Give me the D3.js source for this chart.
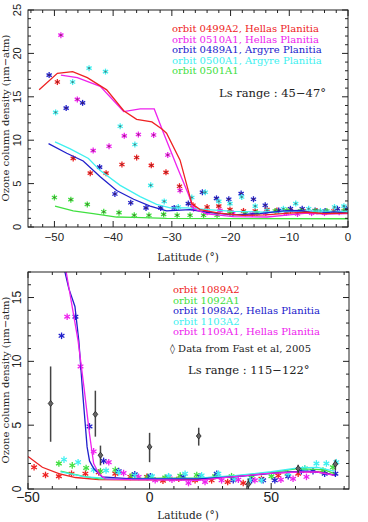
<!DOCTYPE html>
<html><head><meta charset="utf-8">
<script src="https://cdn.jsdelivr.net/npm/d3@7"></script>
<style>body{margin:0;background:#fff}svg{display:block}</style>
</head><body>
<svg id="c" width="368" height="522"></svg>
<script>
// ---------- DATA: top panel (Ls 45-47) ----------
const topLegend = ["orbit 0499A2, Hellas Planitia","orbit 0510A1, Hellas Planitia","orbit 0489A1, Argyre Planitia","orbit 0500A1, Argyre Planitia","orbit 0501A1"];
const topColors = ["#ee2222","#ee22ee","#2020cc","#40f0f0","#40e040"];
const topXTicks = [-50,-40,-30,-20,-10,0];
const topYTicks = [0,5,10,15,20,25];
const topLineRed = [[-52.6,15.8],[-49.5,17.7],[-46.9,17.9],[-44.4,17.2],[-41.1,15.8],[-38.2,13.4],[-36.0,12.4],[-33.4,12.1],[-31.7,11.3],[-30.9,10.8],[-28.6,7.7],[-26.6,2.7],[-25.2,2.0],[-22,1.6],[-18,1.35],[-14,1.4],[-10,1.6],[-7,1.7],[-4,1.55],[0,1.6]];
const topLineMag = [[-48.9,17.5],[-46.1,17.2],[-42.2,16.2],[-38.2,13.3],[-35.4,13.6],[-33.0,13.6],[-31.4,10.8],[-29.1,6.9],[-27.2,3.8],[-26.3,2.1],[-24.0,1.5],[-19.5,1.2],[-13.8,1.15],[-10,1.4],[-7,1.6],[-4,1.5],[0,1.55]];
const topLineBlue = [[-51.0,9.6],[-47.9,8.5],[-45.1,7.6],[-42.2,5.8],[-39.4,4.2],[-36.5,3.2],[-33.7,2.4],[-30.9,1.85],[-26.9,2.0],[-24.0,1.7],[-19.5,1.4],[-15.0,1.55],[-11.0,1.85],[-8.1,1.9],[-5.3,1.55],[-2.4,1.75],[0,1.6]];
const topLineCyan = [[-49.9,9.8],[-47.3,9.0],[-44.2,7.9],[-42.2,6.5],[-38.8,4.8],[-35.4,3.5],[-32.6,2.6],[-30.3,2.2],[-27.4,2.2],[-24.0,2.0],[-19.5,1.8],[-13.8,1.7],[-8.1,1.85],[0,1.8]];
const topLineGreen = [[-49.9,2.4],[-46.8,1.85],[-43.4,1.55],[-39.4,1.15],[-36.5,1.1],[-30.9,1.0],[0,0.95]];
const topStarRed = [[-49.5,16.7],[-46.8,7.9],[-43.9,6.2],[-41.2,6.2],[-38.5,7.2],[-36.0,8.0],[-33.5,7.1],[-31.0,6.3],[-28.7,4.7],[-26.4,2.5],[-24.0,2.3],[-22.0,2.4],[-20.1,2.0],[-17.8,1.85],[-15.8,1.85],[-13.8,2.0],[-12.1,1.9],[-9.8,1.9],[-7.6,1.85],[-5.3,1.85],[-2.4,1.85],[-0.5,1.9]];
const topStarMag = [[-48.9,22.1],[-46.1,14.7],[-43.4,8.8],[-40.7,9.3],[-38.1,10.5],[-35.7,10.65],[-33.1,10.6],[-30.7,8.3],[-28.6,4.2],[-26.3,2.1],[-24.0,1.7],[-21.8,1.9],[-19.6,1.6],[-16.3,1.5],[-14.0,1.6],[-10.5,1.6],[-8.6,1.5],[-6.2,1.6],[-4.0,1.6],[-1.5,1.7]];
const topStarBlue = [[-50.9,17.5],[-48.0,13.7],[-45.2,14.3],[-42.3,6.9],[-39.7,3.8],[-37.0,2.8],[-34.4,2.2],[-31.9,2.2],[-29.6,2.2],[-27.2,2.7],[-24.8,4.0],[-22.4,3.3],[-20.3,3.2],[-18.2,3.85],[-16.1,3.2],[-14.1,2.5],[-11.8,1.9],[-9.8,2.1],[-7.8,2.1],[-5.6,1.9],[-3.9,1.85],[-1.8,2.1],[-0.3,2.1]];
const topStarCyan = [[-49.8,13.2],[-46.9,16.7],[-44.1,18.3],[-41.3,17.9],[-38.8,11.6],[-36.3,9.5],[-33.6,4.8],[-31.3,2.95],[-28.9,2.3],[-26.6,3.4],[-24.3,4.0],[-22.0,2.95],[-20.1,2.7],[-18.1,3.45],[-15.8,2.4],[-13.8,1.9],[-11.0,2.1],[-8.9,2.7],[-6.7,2.1],[-4.7,1.85],[-2.3,2.3],[-0.7,2.4]];
const topStarGreen = [[-50.0,3.4],[-47.2,3.15],[-44.4,2.6],[-41.6,1.75],[-39.0,1.65],[-36.4,1.35],[-33.9,1.35],[-31.4,1.45],[-29.1,1.35],[-26.9,1.35],[-24.6,1.35],[-22.3,1.35],[-20.1,1.55],[-17.5,1.55],[-15.5,1.6],[-12.4,1.85],[-10.4,1.9],[-8.1,1.85],[-5.6,1.85],[-3.6,1.85],[-0.7,1.85]];

// ---------- DATA: bottom panel (Ls 115-122) ----------
const botLegend = ["orbit 1089A2","orbit 1092A1","orbit 1098A2, Hellas Planitia","orbit 1103A2","orbit 1109A1, Hellas Planitia"];
const botColors = ["#ee2222","#40e040","#2020cc","#40f0f0","#ee22ee"];
const botXTicks = [-50,0,50];
const botYTicks = [0,5,10,15];
const botLineRed = [[-50,2.55],[-44.1,1.7],[-37.3,1.2],[-30.5,0.9],[-20.9,0.73],[-10,0.72],[5,0.72],[20,0.75],[33.7,0.95],[47,1.2],[61,1.35],[69,1.35],[76,1.1]];
const botLineGreen = [[-36.6,1.4],[-27.7,1.0],[-20.9,0.8],[-10,0.82],[5,0.85],[20,0.85],[35,1.0],[50,1.3],[61,1.6],[72,1.5],[76,1.2]];
const botLineCyan = [[-36.6,1.35],[-26.4,0.95],[-14,0.8],[5,0.82],[20,0.85],[35,1.05],[50,1.35],[61,1.65],[69,1.7],[76,1.4]];
const botLineBlue = [[-39.3,20],[-34.8,17],[-33.2,15.7],[-30.7,14.3],[-29.1,11.6],[-27.5,7.5],[-25.7,3.3],[-24.7,2.2],[-23.0,1.6],[-19.5,0.95],[-7.2,0.8],[6.4,0.8],[20,0.8],[33.7,0.95],[40.6,1.05],[54.2,1.3],[65.2,1.4],[72,1.25],[76.8,1.05]];
const botLineMag = [[-38.8,20],[-34.3,17],[-33.2,15.8],[-29.4,11.6],[-27,8.0],[-24.7,4.3],[-23,2.0],[-20.9,1.2],[-18.2,0.8],[-7.2,0.73],[20,0.68],[33.7,0.95],[47.4,1.2],[61,1.33],[69,1.33],[76,1.07]];
const botStarRed = [[-47.5,1.7],[-42.8,1.1],[-37.3,1.0],[-32.1,1.2],[-26.4,1.2],[-20.9,1.3],[-14.1,1.2],[-7.9,0.95],[-1.1,0.95],[5.5,0.65],[12,0.8],[18.7,0.68],[25.5,0.68],[32.1,0.55],[38.5,0.47],[46,0.8],[52.9,1.05],[61.1,1.2]];
const botStarGreen = [[-37.3,2.0],[-31.8,1.85],[-26.1,1.65],[-20.2,1.4],[-14.1,1.5],[-7.2,1.05],[-0.7,0.95],[6.4,0.9],[12.6,1.05],[19.4,1.1],[26.9,1.0],[33.7,1.0],[41.9,0.9],[50.1,1.0],[56.7,1.2],[63.8,1.6],[71.3,1.45],[75.4,1.7]];
const botStarBlue = [[-36.2,12.0],[-30.5,13.5],[-24.7,4.9],[-18.9,2.2],[-12.7,1.4],[-6.1,1.15],[0.3,1.0],[7.8,0.95],[13.9,0.95],[20.8,0.95],[27.6,1.2],[34.4,0.68],[41.9,0.68],[46.7,0.68],[51.5,0.68],[57,1.0],[62.4,1.4],[67.2,1.4],[72,1.2],[76.4,1.2]];
const botStarCyan = [[-35.2,2.3],[-29.4,2.1],[-23,1.5],[-17.9,1.45],[-12.7,1.3],[-5.9,1.07],[1,1.0],[7.8,1.0],[14.6,1.2],[21.4,1.07],[28.3,1.2],[35.1,0.8],[41.3,0.68],[46,0.68],[57,1.2],[63.8,1.6],[68.6,2.0],[72.7,2.0],[76.8,2.1]];
const botStarMag = [[-33.9,13.5],[-28.4,9.6],[-23,2.95],[-16.8,2.1],[-10.7,1.25],[-4.5,0.95],[2.3,0.68],[9.2,0.73],[16,0.47],[22.8,0.55],[29.6,0.68],[36.5,0.73],[43.3,0.68],[54,0.73],[59,0.8],[64.5,0.95]];
// Fast et al. 2005: [lat, value, low, high]
const fastData = [[-40.7,6.7,3.7,9.6],[-22.3,5.85,4.1,7.7],[-20.2,2.65,1.85,3.4],[0,3.3,2.1,4.4],[20.2,4.15,3.4,4.8],[40.6,0.37,0,0.8],[61.1,1.6,1.25,1.9],[76.4,1.95,1.45,2.3]];

const svg = d3.select("#c");
const serif = "'DejaVu Serif','Liberation Serif',serif";
const sans = "'Liberation Sans',Arial,sans-serif";

function star(g, pts, x, y, color, r, dot) {
  const s = g.append("g");
  pts.forEach(p => {
    const cx = x(p[0]), cy = y(p[1]);
    for (let k = 0; k < 3; k++) {
      const a = Math.PI/2 + k*Math.PI/3;
      s.append("line").attr("x1", cx + r*Math.cos(a)).attr("y1", cy + r*Math.sin(a))
        .attr("x2", cx - r*Math.cos(a)).attr("y2", cy - r*Math.sin(a))
        .attr("stroke", color).attr("stroke-width", 1.3);
    }
    if (dot) s.append("circle").attr("cx", cx).attr("cy", cy).attr("r", 1.1).attr("fill", "#552222").attr("opacity", 0.55);
  });
}
function line(g, pts, x, y, color) {
  g.append("path").datum(pts).attr("fill","none").attr("stroke",color).attr("stroke-width",1.3)
    .attr("d", d3.line().x(d=>x(d[0])).y(d=>y(d[1])));
}
function frame(g, x, y, xMinorStep, yMinorStep, xTicks, yTicks, xFont, yFont, xLabY) {
  const [x0,x1] = x.range(), [y0,y1] = y.range();
  g.append("rect").attr("x",x0).attr("y",y1).attr("width",x1-x0).attr("height",y0-y1)
    .attr("fill","none").attr("stroke","#222").attr("stroke-width",1);
  const xd = x.domain(), yd = y.domain();
  const xm = d3.range(Math.ceil(xd[0]/xMinorStep)*xMinorStep, xd[1]+1e-9, xMinorStep);
  const ym = d3.range(Math.ceil(yd[0]/yMinorStep)*yMinorStep, yd[1]+1e-9, yMinorStep);
  const isMaj = (v, arr) => arr.some(t => Math.abs(t - v) < 1e-6);
  xm.forEach(v => {
    const L = isMaj(v, xTicks) ? 6 : 3, px = x(v);
    g.append("line").attr("x1",px).attr("x2",px).attr("y1",y0).attr("y2",y0-L).attr("stroke","#222");
    g.append("line").attr("x1",px).attr("x2",px).attr("y1",y1).attr("y2",y1+L).attr("stroke","#222");
  });
  ym.forEach(v => {
    const L = isMaj(v, yTicks) ? 6 : 3, py = y(v);
    g.append("line").attr("y1",py).attr("y2",py).attr("x1",x0).attr("x2",x0+L).attr("stroke","#222");
    g.append("line").attr("y1",py).attr("y2",py).attr("x1",x1).attr("x2",x1-L).attr("stroke","#222");
  });
  xTicks.forEach(v => g.append("text").attr("x", x(v)).attr("y", xLabY).attr("text-anchor","middle")
    .attr("font-family",sans).attr("font-size",xFont).attr("fill","#222").text(v < 0 ? "\u2212" + (-v) : String(v)));
  yTicks.forEach(v => g.append("text").attr("transform",`translate(${x0-7},${y(v)}) rotate(-90)`)
    .attr("text-anchor","middle").attr("font-family",sans).attr("font-size",yFont).attr("fill","#222").text(String(v)));
}

// ---------- top panel ----------
const xT = d3.scaleLinear().domain([-54.5, 0]).range([28, 348]);
const yT = d3.scaleLinear().domain([0, 25]).range([227, 10]);
const gT = svg.append("g");
svg.append("clipPath").attr("id","clipT").append("rect").attr("x",28).attr("y",10).attr("width",320).attr("height",217);
const dT = gT.append("g").attr("clip-path","url(#clipT)");
[[topStarRed,0],[topStarMag,1],[topStarBlue,2],[topStarCyan,3],[topStarGreen,4]].forEach(([p,i]) => star(dT, p, xT, yT, topColors[i], 3.0, true));
[[topLineGreen,4],[topLineCyan,3],[topLineBlue,2],[topLineMag,1],[topLineRed,0]].forEach(([p,i]) => line(dT, p, xT, yT, topColors[i]));
frame(gT, xT, yT, 2, 1, topXTicks, topYTicks, 11.5, 11, 241);
topLegend.forEach((t,i) => gT.append("text").attr("x",172).attr("y",32 + i*10.5)
  .attr("font-family",serif).attr("font-size",10).attr("fill",topColors[i]).text(t));
gT.append("text").attr("x",219).attr("y",97).attr("font-family",serif).attr("font-size",11.5).attr("fill","#222").text("Ls range : 45\u221247\u00b0");
gT.append("text").attr("x",188).attr("y",261).attr("text-anchor","middle").attr("font-family",serif).attr("font-size",10.5).attr("fill","#222").text("Latitude (\u00b0)");
gT.append("text").attr("transform","translate(9,118) rotate(-90)").attr("text-anchor","middle").attr("font-family",serif).attr("font-size",10).attr("fill","#222").text("Ozone column density (\u03bcm\u2212atm)");

// ---------- bottom panel ----------
const xB = d3.scaleLinear().domain([-50, 82]).range([28, 349]);
const yB = d3.scaleLinear().domain([0, 17]).range([489, 272]);
const gB = svg.append("g");
svg.append("clipPath").attr("id","clipB").append("rect").attr("x",28).attr("y",272).attr("width",321).attr("height",217);
const dB = gB.append("g").attr("clip-path","url(#clipB)");
[[botStarRed,0],[botStarGreen,1],[botStarBlue,2],[botStarCyan,3],[botStarMag,4]].forEach(([p,i]) => star(dB, p, xB, yB, botColors[i], 3.3, false));
[[botLineRed,0],[botLineGreen,1],[botLineCyan,3],[botLineBlue,2],[botLineMag,4]].forEach(([p,i]) => line(dB, p, xB, yB, botColors[i]));
fastData.forEach(d => {
  dB.append("line").attr("x1",xB(d[0])).attr("x2",xB(d[0])).attr("y1",yB(d[2])).attr("y2",yB(d[3])).attr("stroke","#444").attr("stroke-width",1.5);
  const cx = xB(d[0]), cy = yB(d[1]), r = 3;
  dB.append("path").attr("d",`M${cx},${cy-r}L${cx+r*0.8},${cy}L${cx},${cy+r}L${cx-r*0.8},${cy}Z`).attr("fill","#666").attr("stroke","#222").attr("stroke-width",0.8);
});
frame(gB, xB, yB, 10, 1, botXTicks, botYTicks, 14, 12, 502);
botLegend.forEach((t,i) => gB.append("text").attr("x",173).attr("y",293 + i*10.5)
  .attr("font-family",serif).attr("font-size",10).attr("fill",botColors[i]).text(t));
gB.append("text").attr("x",170).attr("y",351.5).attr("font-family",serif).attr("font-size",10).attr("fill","#222").text("\u25ca Data from Fast et al, 2005");
gB.append("text").attr("x",188).attr("y",374).attr("font-family",serif).attr("font-size",11.5).attr("fill","#222").text("Ls range : 115\u2212122\u00b0");
gB.append("text").attr("x",188).attr("y",519).attr("text-anchor","middle").attr("font-family",serif).attr("font-size",10.5).attr("fill","#222").text("Latitude (\u00b0)");
gB.append("text").attr("transform","translate(9,380) rotate(-90)").attr("text-anchor","middle").attr("font-family",serif).attr("font-size",10).attr("fill","#222").text("Ozone column density (\u03bcm\u2212atm)");
</script>
</body></html>
